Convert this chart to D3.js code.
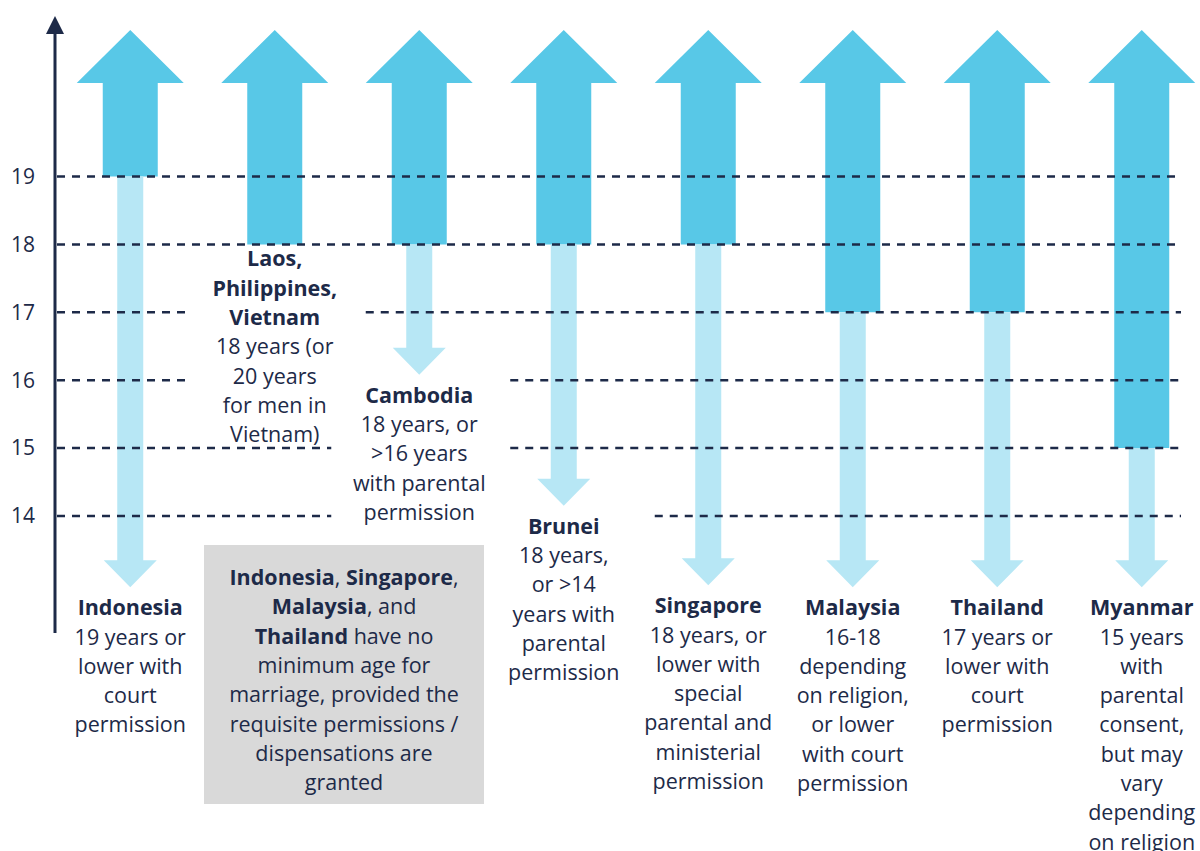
<!DOCTYPE html>
<html>
<head>
<meta charset="utf-8">
<script src="https://cdn.jsdelivr.net/npm/d3@7"></script>
<style>
  body { margin: 0; background: #fff; }
  text { font-family: "Open Sans", sans-serif; }
</style>
</head>
<body>
<svg width="1200" height="851"></svg>
<script>
"use strict";

// 국가별 최소 결혼 연령
const countries = ["Indonesia", "Laos/Philippines/Vietnam", "Cambodia", "Brunei", "Singapore", "Malaysia", "Thailand", "Myanmar"];
const minAges = [19, 18, 18, 18, 18, 17, 17, 15];
// 아래쪽 연한 화살표가 가리키는 연령 (null = 화살표 없음)
const lowerReach = [12.95, null, 16.08, 14.15, 12.98, 12.95, 12.95, 12.95];
const tickValues = [14, 15, 16, 17, 18, 19];

const titleLines = [
  ["Indonesia"],
  ["Laos,", "Philippines,", "Vietnam"],
  ["Cambodia"],
  ["Brunei"],
  ["Singapore"],
  ["Malaysia"],
  ["Thailand"],
  ["Myanmar"]
];
const noteLines = [
  ["19 years or", "lower with", "court", "permission"],
  ["18 years (or", "20 years", "for men in", "Vietnam)"],
  ["18 years, or", ">16 years", "with parental", "permission"],
  ["18 years,", "or >14", "years with", "parental", "permission"],
  ["18 years, or", "lower with", "special", "parental and", "ministerial", "permission"],
  ["16-18", "depending", "on religion,", "or lower", "with court", "permission"],
  ["17 years or", "lower with", "court", "permission"],
  ["15 years", "with", "parental", "consent,", "but may", "vary", "depending", "on religion"]
];
// 회색 박스 안의 문장 (굵게 여부)
const boxLines = [
  [["Indonesia", true], [", ", false], ["Singapore", true], [",", false]],
  [["Malaysia", true], [", and", false]],
  [["Thailand", true], [" have no", false]],
  [["minimum age for", false]],
  [["marriage, provided the", false]],
  [["requisite permissions /", false]],
  [["dispensations are", false]],
  [["granted", false]]
];
// 점선이 끊기는 구간 (눈금값 -> 열 번호 범위)
const gridGaps = { 17: [[1, 1]], 16: [[1, 2]], 15: [[2, 2]], 14: [[2, 3]] };

const navy = "#1d2a48";
const darkBlue = "#58c8e7";
const lightBlue = "#b7e7f5";
const lineH = 29.3;
const fontSize = "21.5px";

const svg = d3.select("svg");

const x = d3.scaleBand().domain(countries).range([58, 1214]);
const y = d3.scaleLinear().domain([14, 19]).range([516, 176.5]);
const cx = i => x(countries[i]) + x.bandwidth() / 2;

// 세로축
svg.append("line")
  .attr("x1", 55).attr("x2", 55)
  .attr("y1", 30).attr("y2", 633)
  .style("stroke", navy).style("stroke-width", 3);
svg.append("path")
  .attr("d", "M55,16L64,34L46,34Z")
  .style("fill", navy);

// 눈금 라벨
svg.selectAll(".tick")
  .data(tickValues)
  .join("text")
  .attr("class", "tick")
  .attr("x", 23)
  .attr("y", d => y(d))
  .attr("dy", "0.35em")
  .attr("text-anchor", "middle")
  .style("font-size", "21px")
  .style("fill", navy)
  .text(d => d);

// 위쪽 진한 화살표
const tipY = 30, headY = 83, shaftW = 55, headW = 107;
svg.selectAll(".up")
  .data(minAges)
  .join("path")
  .attr("class", "up")
  .attr("d", (d, i) => {
    const c = cx(i), b = y(d);
    return `M${c - shaftW / 2},${b}L${c - shaftW / 2},${headY}L${c - headW / 2},${headY}` +
      `L${c},${tipY}L${c + headW / 2},${headY}L${c + shaftW / 2},${headY}L${c + shaftW / 2},${b}Z`;
  })
  .style("fill", darkBlue);

// 아래쪽 연한 화살표
const lShaft = 26, lHead = 53, lHeadH = 27;
svg.selectAll(".down")
  .data(minAges.map((d, i) => ({ i, from: d, to: lowerReach[i] })).filter(d => d.to !== null))
  .join("path")
  .attr("class", "down")
  .attr("d", d => {
    const c = cx(d.i), t = y(d.from), tip = y(d.to), hb = tip - lHeadH;
    return `M${c - lShaft / 2},${t}L${c - lShaft / 2},${hb}L${c - lHead / 2},${hb}` +
      `L${c},${tip}L${c + lHead / 2},${hb}L${c + lShaft / 2},${hb}L${c + lShaft / 2},${t}Z`;
  })
  .style("fill", lightBlue);

// 점선 격자 (글자 구간은 비움)
const gridSegs = [];
tickValues.forEach(t => {
  let start = 57;
  (gridGaps[t] || []).forEach(([a, b]) => {
    const g0 = cx(a) - 88, g1 = cx(b) + 91;
    gridSegs.push({ t, x1: start, x2: g0 });
    start = g1;
  });
  gridSegs.push({ t, x1: start, x2: 1181 });
});
svg.selectAll(".grid")
  .data(gridSegs)
  .join("line")
  .attr("class", "grid")
  .attr("x1", d => d.x1).attr("x2", d => d.x2)
  .attr("y1", d => y(d.t)).attr("y2", d => y(d.t))
  .style("stroke", navy)
  .style("stroke-width", 2.5)
  .style("stroke-dasharray", "8,7");

// 국가별 라벨
countries.forEach((c, i) => {
  const first = lowerReach[i] === null ? y(minAges[i]) + 22 : y(lowerReach[i]) + 28;
  const lines = titleLines[i].map(s => ({ s, bold: true })).concat(noteLines[i].map(s => ({ s, bold: false })));
  svg.append("g").selectAll("text")
    .data(lines)
    .join("text")
    .attr("x", cx(i))
    .attr("y", (d, k) => first + k * lineH)
    .attr("text-anchor", "middle")
    .style("font-size", fontSize)
    .style("font-weight", d => d.bold ? 700 : 400)
    .style("fill", navy)
    .text(d => d.s);
});

// 회색 박스
svg.append("rect")
  .attr("x", 204).attr("y", 545)
  .attr("width", 280).attr("height", 259)
  .style("fill", "#d9d9d9");

svg.append("g").selectAll("text")
  .data(boxLines)
  .join("text")
  .attr("x", 344)
  .attr("y", (d, k) => 585 + k * lineH)
  .attr("text-anchor", "middle")
  .style("font-size", fontSize)
  .style("fill", navy)
  .selectAll("tspan")
  .data(d => d)
  .join("tspan")
  .style("font-weight", d => d[1] ? 700 : 400)
  .text(d => d[0]);
</script>
</body>
</html>
